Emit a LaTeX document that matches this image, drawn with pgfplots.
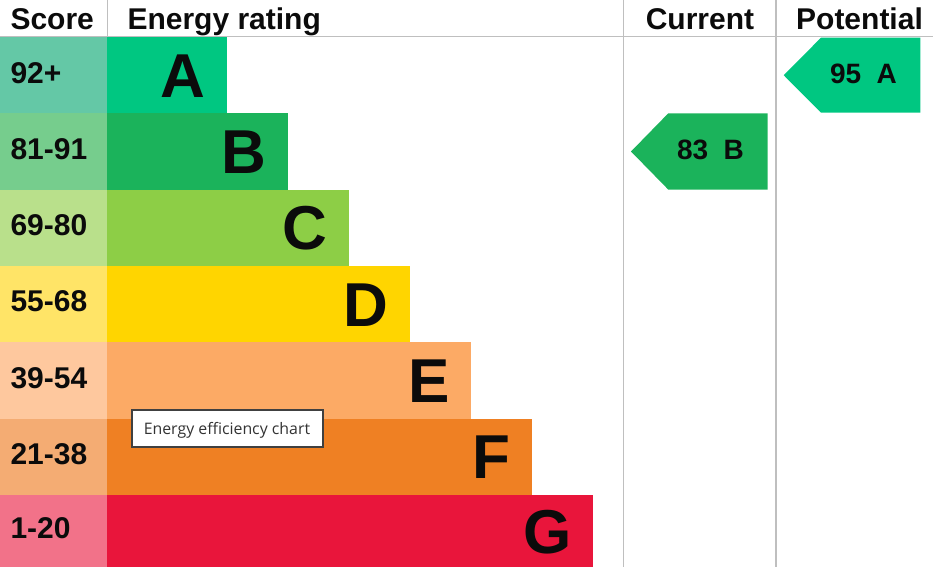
\documentclass[border=0pt]{standalone}
\usepackage{pgfplots}
\pgfplotsset{compat=1.18}
\usepackage{fontspec}
\setmainfont{Liberation Sans}
\newfontfamily\tipfont{Open Sans}

% bars (energy rating) and score cells
\definecolor{barA}{HTML}{00C781}
\definecolor{barB}{HTML}{1BB35B}
\definecolor{barC}{HTML}{8DCE46}
\definecolor{barD}{HTML}{FFD500}
\definecolor{barE}{HTML}{FCAA65}
\definecolor{barF}{HTML}{EF8023}
\definecolor{barG}{HTML}{E9153B}
\definecolor{scA}{HTML}{64C8A6}
\definecolor{scB}{HTML}{76CD8D}
\definecolor{scC}{HTML}{B9E08B}
\definecolor{scD}{HTML}{FFE467}
\definecolor{scE}{HTML}{FEC89E}
\definecolor{scF}{HTML}{F4AC73}
\definecolor{scG}{HTML}{F27289}
\definecolor{rule}{HTML}{BFBFBF}
\definecolor{ink}{HTML}{0B0B0B}

\tikzset{
  lbl/.style={inner sep=0pt, outer sep=0pt, text=ink, font=\bfseries\fontsize{22.5}{24}\selectfont},
  big/.style={inner sep=0pt, outer sep=0pt, text=ink, anchor=base east, font=\bfseries\fontsize{46.5}{48}\selectfont},
}

\begin{document}
\begin{tikzpicture}
\useasboundingbox (0,0) rectangle (699.75pt,425.25pt);
\begin{axis}[
    at={(0,0)}, anchor=south west,
    scale only axis,
    width=699.75pt, height=425.25pt,
    xmin=0, xmax=933,
    ymin=0, ymax=567,
    y dir=reverse,
    axis lines=none,
    clip=false,
]
% grid rules
\addplot[rule, line width=1.2pt] coordinates {(0,36.7) (933,36.7)};
\addplot[rule, line width=1.2pt] coordinates {(107.3,0) (107.3,36.7)};
\addplot[rule, line width=1.2pt] coordinates {(623.3,0) (623.3,567)};
\addplot[rule, line width=1.2pt] coordinates {(775.7,0) (775.7,567)};

% score cells
\addplot[fill=scA, draw=none] coordinates {(0,37.0) (107.3,37.0) (107.3,113.3) (0,113.3)} -- cycle;
\addplot[fill=scB, draw=none] coordinates {(0,113.3) (107.3,113.3) (107.3,189.6) (0,189.6)} -- cycle;
\addplot[fill=scC, draw=none] coordinates {(0,189.6) (107.3,189.6) (107.3,266.0) (0,266.0)} -- cycle;
\addplot[fill=scD, draw=none] coordinates {(0,266.0) (107.3,266.0) (107.3,342.3) (0,342.3)} -- cycle;
\addplot[fill=scE, draw=none] coordinates {(0,342.3) (107.3,342.3) (107.3,418.6) (0,418.6)} -- cycle;
\addplot[fill=scF, draw=none] coordinates {(0,418.6) (107.3,418.6) (107.3,495.0) (0,495.0)} -- cycle;
\addplot[fill=scG, draw=none] coordinates {(0,495.0) (107.3,495.0) (107.3,567) (0,567)} -- cycle;

% rating bars
\addplot[fill=barA, draw=none] coordinates {(107.3,37.0) (226.7,37.0) (226.7,113.3) (107.3,113.3)} -- cycle;
\addplot[fill=barB, draw=none] coordinates {(107.3,113.3) (287.7,113.3) (287.7,189.6) (107.3,189.6)} -- cycle;
\addplot[fill=barC, draw=none] coordinates {(107.3,189.6) (348.7,189.6) (348.7,266.0) (107.3,266.0)} -- cycle;
\addplot[fill=barD, draw=none] coordinates {(107.3,266.0) (409.7,266.0) (409.7,342.3) (107.3,342.3)} -- cycle;
\addplot[fill=barE, draw=none] coordinates {(107.3,342.3) (470.7,342.3) (470.7,418.6) (107.3,418.6)} -- cycle;
\addplot[fill=barF, draw=none] coordinates {(107.3,418.6) (531.7,418.6) (531.7,495.0) (107.3,495.0)} -- cycle;
\addplot[fill=barG, draw=none] coordinates {(107.3,495.0) (592.7,495.0) (592.7,567) (107.3,567)} -- cycle;

% current and potential arrows
\addplot[fill=barB, draw=none] coordinates {(631.0,151.5) (668.3,113.3) (767.7,113.3) (767.7,189.6) (668.3,189.6)} -- cycle;
\addplot[fill=barA, draw=none] coordinates {(783.7,75.2) (821.0,37.7) (920.3,37.7) (920.3,112.7) (821.0,112.7)} -- cycle;

% headers
\node[lbl, anchor=base west] at (axis cs:10.5,29.3) {Score};
\node[lbl, anchor=base west] at (axis cs:127.5,29.3) {Energy rating};
\node[lbl, anchor=base] at (axis cs:700,29.3) {Current};
\node[lbl, anchor=base] at (axis cs:859.5,29.3) {Potential};

% score labels
\node[lbl, anchor=base west] at (axis cs:10.5,83.3) {92+};
\node[lbl, anchor=base west] at (axis cs:10.5,159.6) {81-91};
\node[lbl, anchor=base west] at (axis cs:10.5,235.5) {69-80};
\node[lbl, anchor=base west] at (axis cs:10.5,311.9) {55-68};
\node[lbl, anchor=base west] at (axis cs:10.5,388.2) {39-54};
\node[lbl, anchor=base west] at (axis cs:10.5,464.5) {21-38};
\node[lbl, anchor=base west] at (axis cs:10.5,538.5) {1-20};

% band letters
\node[big] at (axis cs:205.7,97.3) {A};
\node[big] at (axis cs:266.7,173.6) {B};
\node[big] at (axis cs:327.7,249.9) {C};
\node[big] at (axis cs:388.7,326.2) {D};
\node[big] at (axis cs:449.7,402.5) {E};
\node[big] at (axis cs:510.7,478.8) {F};
\node[big] at (axis cs:571.7,553.0) {G};

% arrow labels
\node[lbl, anchor=base, font=\bfseries\fontsize{21}{23}\selectfont] at (axis cs:710.5,159.3) {83\hspace{0.55em}B};
\node[lbl, anchor=base, font=\bfseries\fontsize{21}{23}\selectfont] at (axis cs:863.5,83.3) {95\hspace{0.55em}A};

% tooltip
\addplot[fill=white, draw=black!75, line width=0.8pt] coordinates {(132,410) (323,410) (323,447) (132,447)} -- cycle;
\node[inner sep=0pt, anchor=base west, font=\tipfont\fontsize{11.9}{13}\selectfont, text=black!80] at (axis cs:143.5,434) {Energy efficiency chart};
\end{axis}
\end{tikzpicture}
\end{document}
